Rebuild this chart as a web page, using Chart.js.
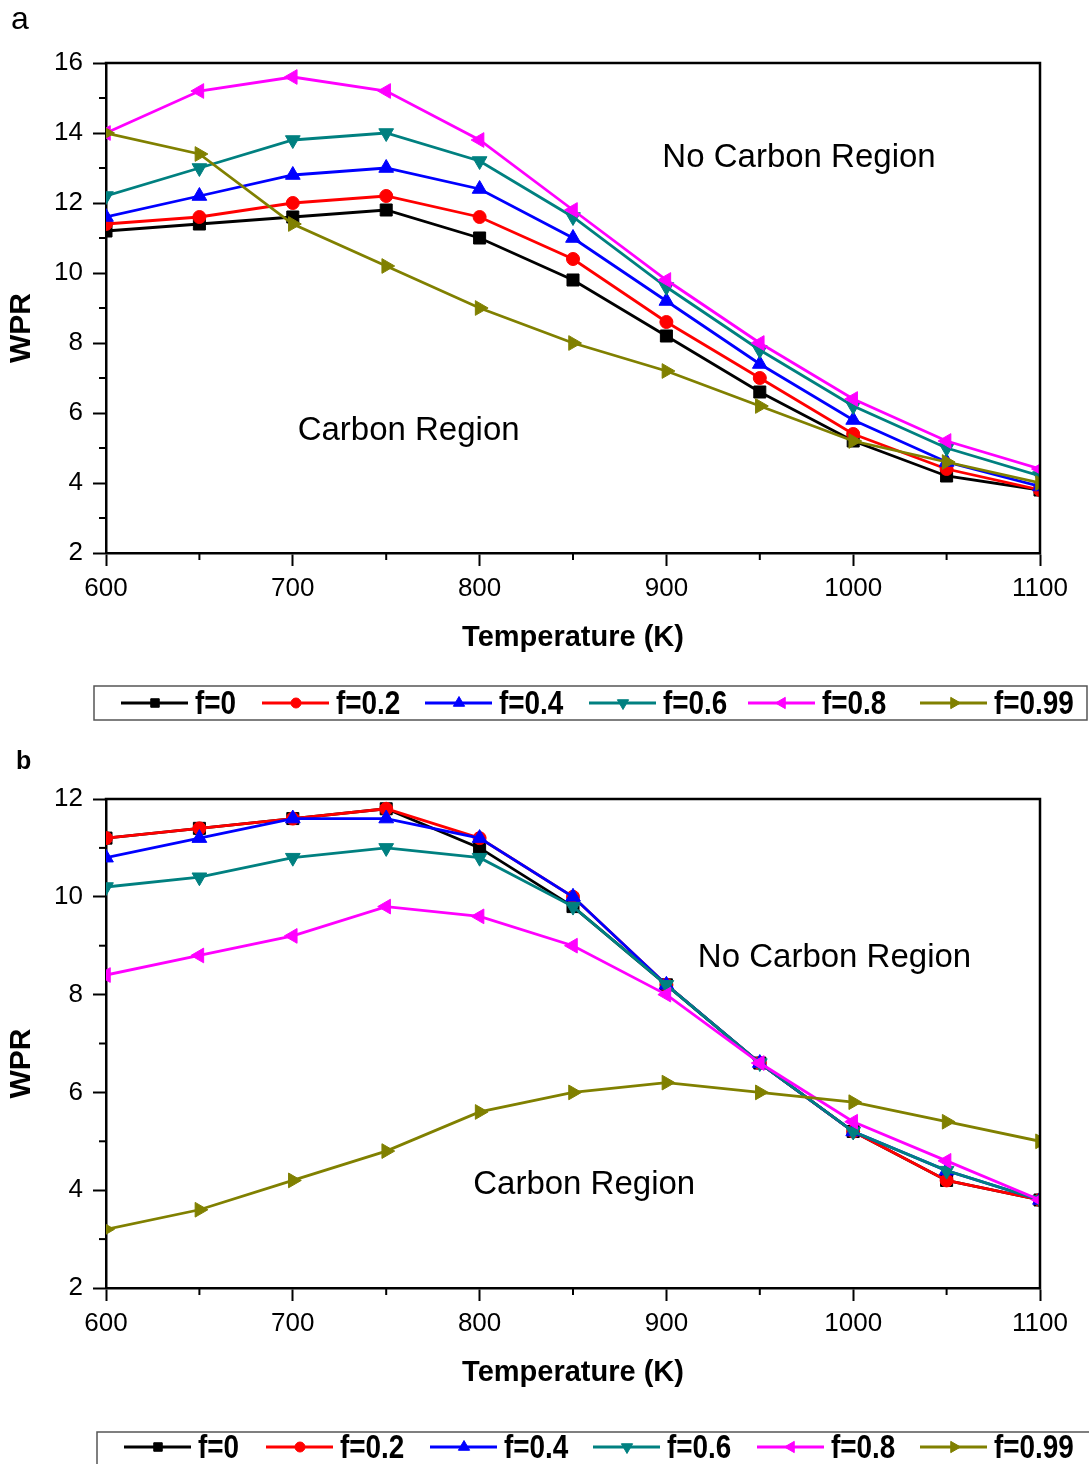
<!DOCTYPE html>
<html><head><meta charset="utf-8">
<script src="https://cdn.jsdelivr.net/npm/chart.js@4.4.1/dist/chart.umd.min.js"></script>
<style>
html,body{margin:0;padding:0;background:#fff;width:1089px;height:1464px;overflow:hidden;}
#wa{position:absolute;left:0;top:0;width:1089px;height:730px;}
#wb{position:absolute;left:0;top:730px;width:1089px;height:734px;}
.lbl{position:absolute;font-family:"Liberation Sans",Arial,sans-serif;color:#000;line-height:1;}
</style></head><body>
<div id="wa"><canvas id="ca"></canvas></div>
<div id="wb"><canvas id="cb"></canvas></div>
<div class="lbl" style="left:11px;top:2px;font-size:32px;">a</div>
<div class="lbl" style="left:16px;top:748px;font-size:25px;font-weight:bold;">b</div>
<script>
// ---------- data ----------
const temperatures = [600, 650, 700, 750, 800, 850, 900, 950, 1000, 1050, 1100];
const seriesLabels = ['f=0', 'f=0.2', 'f=0.4', 'f=0.6', 'f=0.8', 'f=0.99'];
const xTickLabels = [600, 700, 800, 900, 1000, 1100];
const yTickLabelsA = [2, 4, 6, 8, 10, 12, 14, 16];
const yTickLabelsB = [2, 4, 6, 8, 10, 12];

// panel a
const wprA_f0   = [11.2, 11.4, 11.6, 11.8, 11.0, 9.8, 8.2, 6.6, 5.2, 4.2, 3.8];
const wprA_f02  = [11.4, 11.6, 12.0, 12.2, 11.6, 10.4, 8.6, 7.0, 5.4, 4.4, 3.8];
const wprA_f04  = [11.6, 12.2, 12.8, 13.0, 12.4, 11.0, 9.2, 7.4, 5.8, 4.6, 3.9];
const wprA_f06  = [12.2, 13.0, 13.8, 14.0, 13.2, 11.6, 9.6, 7.8, 6.2, 5.0, 4.2];
const wprA_f08  = [14.0, 15.2, 15.6, 15.2, 13.8, 11.8, 9.8, 8.0, 6.4, 5.2, 4.4];
const wprA_f099 = [14.0, 13.4, 11.4, 10.2, 9.0, 8.0, 7.2, 6.2, 5.2, 4.6, 4.0];

// panel b
const wprB_f0   = [11.2, 11.4, 11.6, 11.8, 11.0, 9.8, 8.2, 6.6, 5.2, 4.2, 3.8];
const wprB_f02  = [11.2, 11.4, 11.6, 11.8, 11.2, 10.0, 8.2, 6.6, 5.2, 4.2, 3.8];
const wprB_f04  = [10.8, 11.2, 11.6, 11.6, 11.2, 10.0, 8.2, 6.6, 5.2, 4.4, 3.8];
const wprB_f06  = [10.2, 10.4, 10.8, 11.0, 10.8, 9.8, 8.2, 6.6, 5.2, 4.4, 3.8];
const wprB_f08  = [8.4, 8.8, 9.2, 9.8, 9.6, 9.0, 8.0, 6.6, 5.4, 4.6, 3.8];
const wprB_f099 = [3.2, 3.6, 4.2, 4.8, 5.6, 6.0, 6.2, 6.0, 5.8, 5.4, 5.0];

// ---------- styles ----------
const colors = ['#000000', '#FF0000', '#0000FF', '#008080', '#FF00FF', '#808000'];
const pStyles = ['rect', 'circle', 'triangle', 'triangle', 'triangle', 'triangle'];
const pRot = [0, 0, 0, 180, 270, 90];
const pRad = [8.5, 6.5, 8.5, 8.5, 8.5, 8.5];
const lRad = [6, 5, 6.5, 6.5, 6.5, 6.5];
const FONT = '"Liberation Sans", Arial, sans-serif';

function makeDatasets(series) {
  return series.map((vals, i) => ({
    label: seriesLabels[i],
    data: temperatures.map((t, k) => ({x: t, y: vals[k]})),
    borderColor: colors[i],
    backgroundColor: colors[i],
    borderWidth: 2.8,
    pointStyle: pStyles[i],
    rotation: pRot[i],
    pointRadius: pRad[i],
    pointBorderWidth: 1,
    pointBackgroundColor: colors[i],
    pointBorderColor: colors[i],
    tension: 0,
    order: series.length - i
  }));
}

function drawMarker(ctx, style, rot, r, x, y, color) {
  ctx.save();
  ctx.fillStyle = color; ctx.strokeStyle = color; ctx.lineWidth = 1;
  ctx.beginPath();
  if (style === 'rect') {
    const s = Math.SQRT1_2 * r;
    ctx.rect(x - s, y - s, 2 * s, 2 * s);
  } else if (style === 'circle') {
    ctx.arc(x, y, r, 0, Math.PI * 2);
  } else {
    const rad = rot * Math.PI / 180;
    for (let k = 0; k < 3; k++) {
      const a = rad + k * 2 * Math.PI / 3;
      const px = x + Math.sin(a) * r, py = y - Math.cos(a) * r;
      if (k === 0) ctx.moveTo(px, py); else ctx.lineTo(px, py);
    }
    ctx.closePath();
  }
  ctx.fill(); ctx.stroke();
  ctx.restore();
}

const framePlugin = {
  id: 'frame',
  afterDraw(chart, args, opts) {
    const {ctx, chartArea: a, scales} = chart;
    const xs = scales.x, ys = scales.y;
    ctx.save();
    // top and right frame
    ctx.strokeStyle = '#000'; ctx.lineWidth = 2.5;
    ctx.beginPath();
    ctx.moveTo(a.left - 1.25, a.top); ctx.lineTo(a.right, a.top); ctx.lineTo(a.right, a.bottom + 1.25);
    ctx.stroke();
    // minor ticks
    ctx.lineWidth = 2;
    xs.ticks.forEach(t => {
      if (!xTickLabels.includes(t.value)) {
        const px = xs.getPixelForValue(t.value);
        ctx.beginPath(); ctx.moveTo(px, a.bottom); ctx.lineTo(px, a.bottom + 7); ctx.stroke();
      }
    });
    ys.ticks.forEach(t => {
      if (!opts.yLabels.includes(t.value)) {
        const py = ys.getPixelForValue(t.value);
        ctx.beginPath(); ctx.moveTo(a.left, py); ctx.lineTo(a.left - 7, py); ctx.stroke();
      }
    });
    // region annotations
    ctx.fillStyle = '#000';
    ctx.font = '33px ' + FONT;
    ctx.textAlign = 'center'; ctx.textBaseline = 'middle';
    opts.notes.forEach(n => ctx.fillText(n.text, xs.getPixelForValue(n.x), ys.getPixelForValue(n.y)));
    // y title
    ctx.save();
    ctx.translate(22, (a.top + a.bottom) / 2 + 20);
    ctx.rotate(-Math.PI / 2);
    ctx.font = 'bold 30px ' + FONT;
    ctx.fillText('WPR', 0, 0);
    ctx.restore();
    // legend
    const L = opts.legend;
    ctx.strokeStyle = '#555'; ctx.lineWidth = 1.5;
    ctx.strokeRect(L.box[0], L.box[1], L.box[2], L.box[3]);
    chart.data.datasets.forEach((ds, i) => {
      const s = L.starts[i];
      ctx.strokeStyle = ds.borderColor; ctx.lineWidth = 2.8;
      ctx.beginPath(); ctx.moveTo(s, L.cy); ctx.lineTo(s + 67, L.cy); ctx.stroke();
      drawMarker(ctx, pStyles[i], pRot[i], lRad[i], s + 34, L.cy, ds.borderColor);
      ctx.save();
      ctx.translate(s + 74, L.cy + 1.5);
      ctx.scale(0.9, 1.1);
      ctx.font = 'bold 31px ' + FONT;
      ctx.textAlign = 'left'; ctx.textBaseline = 'middle';
      ctx.fillStyle = '#000';
      ctx.fillText(ds.label, 0, 0);
      ctx.restore();
    });
    ctx.restore();
  }
};

function makeChart(id, series, ymin, ymax, yLabels, notes, legend, pad) {
  return new Chart(document.getElementById(id), {
    type: 'line',
    data: {datasets: makeDatasets(series)},
    options: {
      responsive: true, maintainAspectRatio: false, animation: false,
      layout: {padding: pad},
      plugins: {legend: {display: false}, tooltip: {enabled: false},
        frame: {yLabels: yLabels, notes: notes, legend: legend}},
      scales: {
        x: {
          type: 'linear', min: 600, max: 1100,
          ticks: {stepSize: 50, autoSkip: false, maxRotation: 0, padding: 7, color: '#000',
            font: {family: FONT, size: 26},
            callback: v => xTickLabels.includes(v) ? String(v) : ''},
          grid: {display: true, drawOnChartArea: false, drawTicks: true, tickLength: 13, tickWidth: 2,
            tickColor: c => (c.tick && xTickLabels.includes(c.tick.value)) ? '#000' : 'rgba(0,0,0,0)'},
          border: {display: true, color: '#000', width: 2.5},
          title: {display: true, text: 'Temperature (K)', color: '#000',
            font: {family: FONT, size: 29, weight: 'bold'}, padding: 0},
          afterFit: s => { s.height = 102; }
        },
        y: {
          type: 'linear', min: ymin, max: ymax,
          ticks: {stepSize: 1, autoSkip: false, padding: 10, color: '#000',
            font: {family: FONT, size: 26},
            callback: v => yLabels.includes(v) ? String(v) : ''},
          grid: {display: true, drawOnChartArea: false, drawTicks: true, tickLength: 13, tickWidth: 2,
            tickColor: c => (c.tick && yLabels.includes(c.tick.value)) ? '#000' : 'rgba(0,0,0,0)'},
          border: {display: true, color: '#000', width: 2.5},
          afterFit: s => { s.width = 106; }
        }
      }
    },
    plugins: [framePlugin]
  });
}

makeChart('ca',
  [wprA_f0, wprA_f02, wprA_f04, wprA_f06, wprA_f08, wprA_f099],
  2, 16, yTickLabelsA,
  [{text: 'No Carbon Region', x: 971, y: 13.3}, {text: 'Carbon Region', x: 762, y: 5.5}],
  {box: [94, 686, 993, 34], cy: 703, starts: [121, 262, 425, 589, 748, 920]},
  {top: 63, right: 49, left: 0, bottom: 75});

makeChart('cb',
  [wprB_f0, wprB_f02, wprB_f04, wprB_f06, wprB_f08, wprB_f099],
  2, 12, yTickLabelsB,
  [{text: 'No Carbon Region', x: 990, y: 8.75}, {text: 'Carbon Region', x: 856, y: 4.1}],
  {box: [97, 702, 1000, 50], cy: 717, starts: [124, 266, 430, 593, 757, 920]},
  {top: 69, right: 49, left: 0, bottom: 74});
</script>
</body></html>
